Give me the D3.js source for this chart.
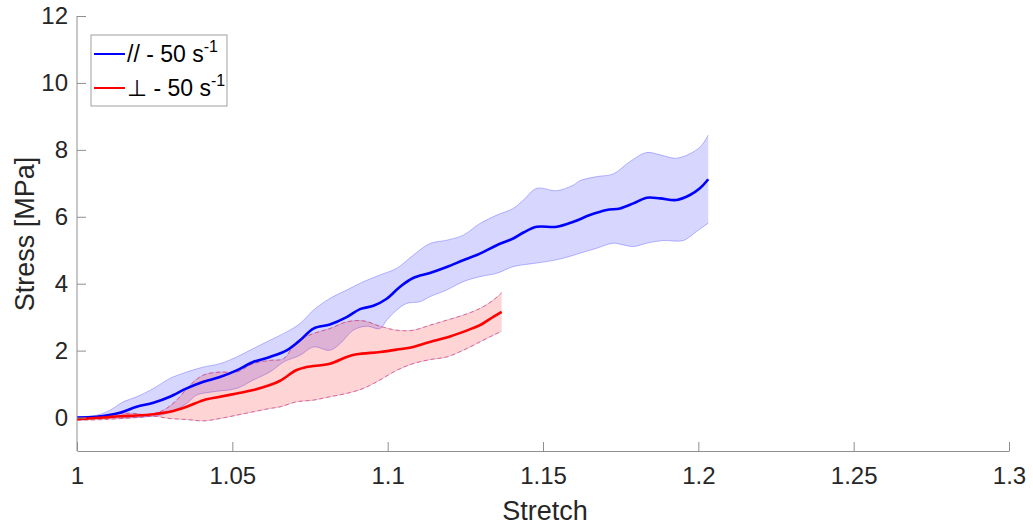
<!DOCTYPE html>
<html>
<head>
<meta charset="utf-8">
<script src="https://cdn.jsdelivr.net/npm/d3@7"></script>
<style>
  body{margin:0;background:#fff;}
  svg{display:block;font-family:Arial,"Liberation Sans",Helvetica,sans-serif;}
</style>
</head>
<body>
<div id="chart"></div>
<script>
const width = 1033, height = 528;

const xTicks = [1, 1.05, 1.1, 1.15, 1.2, 1.25, 1.3];
const yTicks = [0, 2, 4, 6, 8, 10, 12];

// parallel (//) - blue
const parMean = [[1.000,0],[1.0063,0.02],[1.0138,0.14],[1.0192,0.32],[1.0246,0.44],[1.0299,0.62],[1.0353,0.87],
  [1.0407,1.07],[1.0460,1.21],[1.0514,1.41],[1.0567,1.66],[1.0621,1.81],[1.0675,2.01],[1.0718,2.31],[1.0761,2.66],
  [1.0814,2.78],[1.0868,3.00],[1.0911,3.24],[1.0954,3.34],[1.0997,3.55],[1.1040,3.91],[1.1082,4.17],[1.1136,4.32],
  [1.1190,4.50],[1.1243,4.70],[1.1297,4.90],[1.1351,5.15],[1.1404,5.35],[1.1437,5.53],[1.1480,5.70],[1.1544,5.70],
  [1.1598,5.85],[1.1651,6.05],[1.1705,6.20],[1.1748,6.25],[1.1791,6.40],[1.1834,6.57],[1.1877,6.55],[1.1930,6.50],
  [1.1973,6.65],[1.2005,6.85],[1.2032,7.12]];
const parUpper = [[1.000,0.02],[1.0063,0.07],[1.0106,0.22],[1.0149,0.47],[1.0192,0.62],[1.0246,0.87],[1.0299,1.17],
  [1.0353,1.36],[1.0407,1.51],[1.0460,1.61],[1.0514,1.81],[1.0567,2.06],[1.0621,2.31],[1.0675,2.56],[1.0718,2.81],
  [1.0761,3.21],[1.0814,3.56],[1.0868,3.81],[1.0922,4.06],[1.0975,4.26],[1.1029,4.46],[1.1082,4.85],[1.1136,5.20],
  [1.1190,5.30],[1.1243,5.45],[1.1297,5.80],[1.1351,6.05],[1.1404,6.25],[1.1437,6.50],[1.1480,6.85],[1.1544,6.78],
  [1.1598,6.95],[1.1619,7.08],[1.1673,7.20],[1.1726,7.28],[1.1780,7.65],[1.1834,7.92],[1.1877,7.85],[1.1930,7.75],
  [1.1984,7.94],[1.2011,8.14],[1.2032,8.44]];
const parLower = [[1.000,-0.03],[1.0063,-0.02],[1.0224,0.02],[1.0289,0.12],[1.0353,0.42],[1.0385,0.67],[1.0439,0.77],
  [1.0514,0.87],[1.0567,1.12],[1.0621,1.36],[1.0665,1.66],[1.0718,1.86],[1.0761,2.11],[1.0814,2.01],[1.0847,2.21],
  [1.0889,2.61],[1.0932,2.73],[1.0975,2.66],[1.0997,2.91],[1.1029,3.21],[1.1061,3.41],[1.1104,3.46],[1.1136,3.61],
  [1.1190,3.81],[1.1243,4.06],[1.1297,4.21],[1.1351,4.31],[1.1404,4.51],[1.1458,4.59],[1.1512,4.66],[1.1565,4.76],
  [1.1619,4.91],[1.1673,5.06],[1.1726,5.21],[1.1758,5.16],[1.1791,5.11],[1.1834,5.21],[1.1888,5.29],[1.1952,5.29],
  [1.1994,5.56],[1.2032,5.81]];

// perpendicular (⊥) - red
const perpMean = [[1.000,-0.05],[1.0085,0.0],[1.0138,0.04],[1.0192,0.06],[1.0246,0.10],[1.0299,0.17],[1.0353,0.32],
  [1.0407,0.52],[1.0460,0.62],[1.0514,0.72],[1.0567,0.82],[1.0621,0.97],[1.0654,1.10],[1.0707,1.42],[1.0739,1.51],
  [1.0814,1.61],[1.0868,1.81],[1.0900,1.89],[1.0975,1.96],[1.1029,2.03],[1.1082,2.11],[1.1136,2.26],[1.1190,2.39],
  [1.1243,2.56],[1.1297,2.76],[1.1340,3.01],[1.1367,3.16]];
const perpUpper = [[1.000,0.0],[1.0085,0.05],[1.0138,0.12],[1.0192,0.12],[1.0224,0.07],[1.0278,0.22],[1.0321,0.52],
  [1.0364,0.97],[1.0407,1.27],[1.0460,1.36],[1.0514,1.36],[1.0567,1.61],[1.0621,1.71],[1.0665,1.76],[1.0707,2.26],
  [1.0761,2.51],[1.0814,2.66],[1.0868,2.86],[1.0922,2.89],[1.0975,2.73],[1.1029,2.61],[1.1082,2.61],[1.1136,2.76],
  [1.1190,2.91],[1.1243,3.06],[1.1297,3.26],[1.1340,3.51],[1.1367,3.73]];
const perpLower = [[1.000,-0.08],[1.0085,-0.06],[1.0192,0.0],[1.0246,0.04],[1.0299,-0.03],[1.0353,-0.06],[1.0407,-0.10],
  [1.0460,-0.03],[1.0514,0.07],[1.0567,0.17],[1.0621,0.27],[1.0654,0.32],[1.0707,0.47],[1.0761,0.52],[1.0814,0.62],
  [1.0868,0.72],[1.0922,0.87],[1.0975,1.12],[1.1029,1.41],[1.1082,1.61],[1.1136,1.73],[1.1190,1.81],[1.1243,2.01],
  [1.1297,2.26],[1.1340,2.46],[1.1367,2.58]];

const svg = d3.select("#chart").append("svg")
  .attr("width", width).attr("height", height);

const x = d3.scaleLinear().domain([1, 1.3]).range([77, 1009]);
const y = d3.scaleLinear().domain([-1, 12]).range([451, 16]);

const line = d3.line().x(d=>x(d[0])).y(d=>y(d[1])).curve(d3.curveCatmullRom);

function bandPath(up, lo){
  const a = line(up);
  const b = line(lo.slice().reverse());
  return a + "L" + b.slice(1) + "Z";
}

// bands
svg.append("path").attr("d", bandPath(parUpper, parLower))
  .attr("fill", "rgba(0,0,255,0.16)").attr("stroke", "none");
[parUpper, parLower].forEach(p=>{
  svg.append("path").attr("d", line(p)).attr("fill","none")
    .attr("stroke","rgba(0,0,255,0.25)").attr("stroke-width",1);
});

svg.append("path").attr("d", bandPath(perpUpper, perpLower))
  .attr("fill", "rgba(255,0,0,0.17)").attr("stroke", "none");
[perpUpper, perpLower].forEach(p=>{
  svg.append("path").attr("d", line(p)).attr("fill","none")
    .attr("stroke","rgba(120,120,255,0.35)").attr("stroke-width",1);
  svg.append("path").attr("d", line(p)).attr("fill","none")
    .attr("stroke","rgba(255,0,0,0.5)").attr("stroke-width",1)
    .attr("stroke-dasharray","4,3");
});

// means
svg.append("path").attr("d", line(parMean)).attr("fill","none")
  .attr("stroke","#0000ff").attr("stroke-width",2.6);
svg.append("path").attr("d", line(perpMean)).attr("fill","none")
  .attr("stroke","#ff0000").attr("stroke-width",2.6);

// axes
const xAxis = svg.append("g").attr("transform","translate(0,451)")
  .call(d3.axisBottom(x).tickValues(xTicks).tickFormat(d=>String(+d.toFixed(2)))
    .tickSizeInner(-9).tickSizeOuter(0).tickPadding(16));
const yAxis = svg.append("g").attr("transform","translate(77,0)")
  .call(d3.axisLeft(y).tickValues(yTicks).tickFormat(d3.format("d"))
    .tickSizeInner(-9).tickSizeOuter(0).tickPadding(9));
[xAxis, yAxis].forEach(g=>{
  g.select(".domain").attr("stroke","#8f8f8f").attr("stroke-width",1);
  g.selectAll(".tick line").attr("stroke","#8f8f8f");
  g.selectAll(".tick text").attr("fill","#262626").style("font-size","24px");
});
// axis line stretches over full range
yAxis.select(".domain").attr("d", `M0,${y(-1)}V${y(12)}`);

svg.append("text").attr("x", 545).attr("y", 520).attr("text-anchor","middle")
  .attr("fill","#262626").style("font-size","27px").text("Stretch");
svg.append("text").attr("transform","translate(34,234) rotate(-90)").attr("text-anchor","middle")
  .attr("fill","#262626").style("font-size","27px").text("Stress [MPa]");

// legend
const legend = svg.append("g");
legend.append("rect").attr("x",91).attr("y",35).attr("width",136).attr("height",71)
  .attr("fill","#fff").attr("stroke","#a0a0a0").attr("stroke-width",1);
const items = [{color:"#0000ff", sym:"// - 50 s", yy:54},{color:"#ff0000", sym:"\u22A5 - 50 s", yy:88}];
items.forEach(it=>{
  legend.append("line").attr("x1",94).attr("x2",125).attr("y1",it.yy).attr("y2",it.yy)
    .attr("stroke",it.color).attr("stroke-width",2);
  const t = legend.append("text").attr("x",127).attr("y",it.yy+8)
    .attr("fill","#000").style("font-size","23px");
  t.append("tspan").text(it.sym);
  t.append("tspan").attr("dy",-10).style("font-size","16px").text("-1");
});
</script>
</body>
</html>
